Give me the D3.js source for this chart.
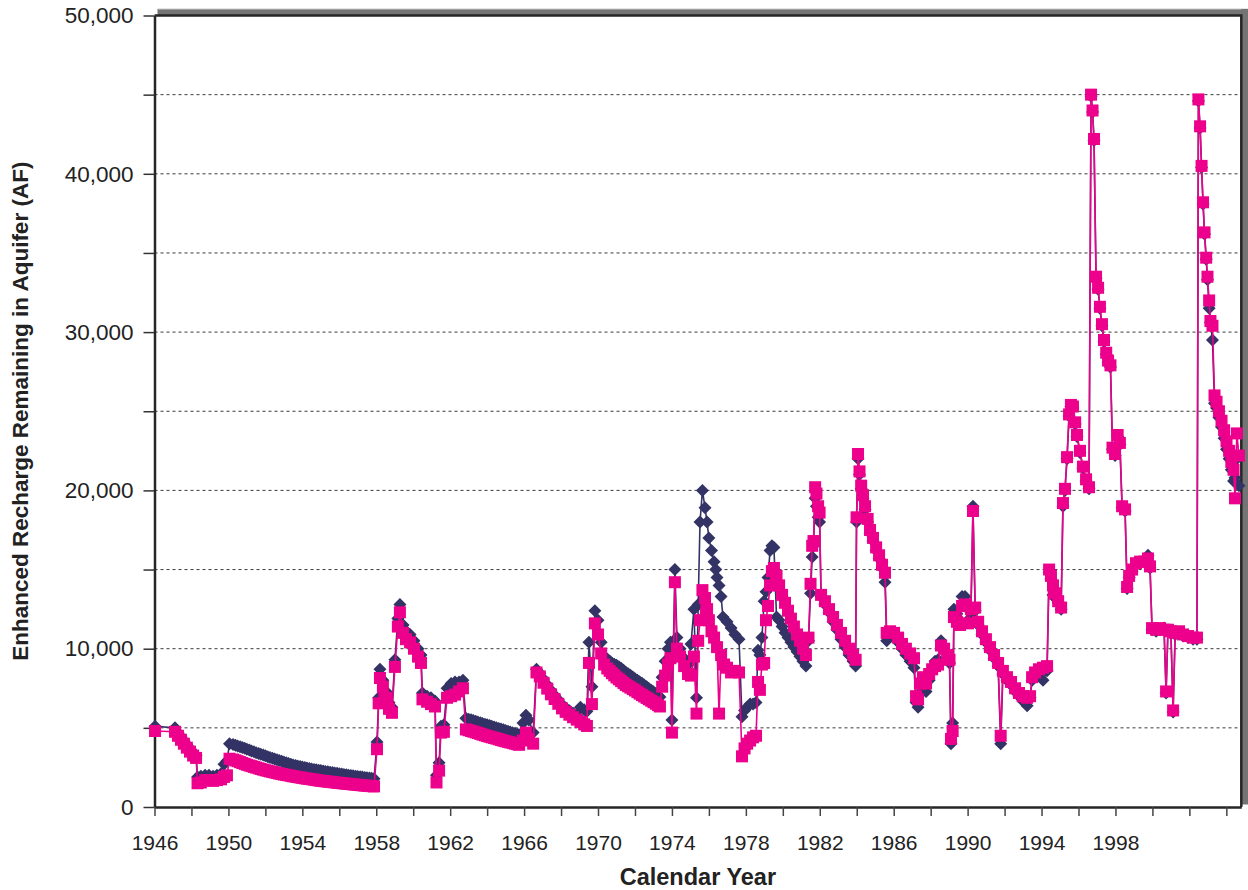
<!DOCTYPE html>
<html>
<head>
<meta charset="utf-8">
<script src="https://cdn.jsdelivr.net/npm/d3@7"></script>
<style>
  body { margin: 0; background: #fff; }
  svg { display: block; }
  text { font-family: "Liberation Sans", Arial, Helvetica, sans-serif; }
</style>
</head>
<body>
<svg id="chart" width="1248" height="890"></svg>
<script>
// Enhanced recharge remaining in the aquifer (AF), [calendar year, acre-feet]
const diamondSeries = [
  [1946.03,5100],[1947.11,5000],[1947.27,4700],[1947.43,4450],[1947.59,4200],[1947.75,3950],[1947.92,3700],[1948.09,3450],[1948.25,3250],[1948.33,1900],[1948.51,1950],[1948.74,2000],[1948.95,2000],[1949.17,1950],[1949.38,2000],[1949.60,2100],[1949.76,2700],[1949.92,2900],[1950.06,4000],
  [1950.25,3950],[1950.38,3905],[1950.50,3860],[1950.63,3810],[1950.75,3760],[1950.88,3705],[1951.00,3650],[1951.13,3595],[1951.25,3540],[1951.38,3485],[1951.50,3430],[1951.63,3380],[1951.75,3330],[1951.88,3280],
  [1952.00,3230],[1952.13,3180],[1952.25,3130],[1952.38,3080],[1952.50,3030],[1952.63,2980],[1952.75,2930],[1952.88,2885],[1953.00,2840],[1953.13,2795],[1953.25,2750],[1953.38,2705],[1953.50,2660],[1953.63,2625],[1953.75,2590],[1953.88,2555],
  [1954.00,2520],[1954.13,2490],[1954.25,2460],[1954.38,2430],[1954.50,2400],[1954.63,2375],[1954.75,2350],[1954.88,2325],[1955.00,2300],[1955.13,2275],[1955.25,2250],[1955.38,2225],[1955.50,2200],[1955.63,2175],[1955.75,2150],[1955.88,2125],
  [1956.00,2100],[1956.13,2080],[1956.25,2060],[1956.38,2035],[1956.50,2010],[1956.63,1990],[1956.75,1970],[1956.88,1950],[1957.00,1930],[1957.13,1910],[1957.25,1890],[1957.38,1870],[1957.50,1850],[1957.63,1830],[1957.75,1810],[1957.88,1790],
  [1958.04,4100],[1958.13,6900],[1958.20,8700],[1958.36,8000],[1958.53,7300],[1958.69,6600],[1958.85,6300],[1959.01,9300],[1959.17,11900],[1959.28,12800],[1959.45,11500],[1959.61,11100],[1959.83,10900],[1960.04,10500],[1960.26,10000],[1960.42,9600],[1960.50,7200],[1960.75,7000],[1960.96,6900],[1961.18,6700],[1961.26,2000],[1961.40,2800],[1961.50,5100],[1961.66,5200],[1961.83,7500],[1962.05,7800],[1962.26,7900],[1962.48,7900],[1962.69,8000],[1962.85,5600],
  [1963.00,5550],[1963.13,5505],[1963.25,5460],[1963.38,5415],[1963.50,5370],[1963.63,5325],[1963.75,5280],[1963.88,5235],[1964.00,5190],[1964.13,5145],[1964.25,5100],[1964.38,5055],[1964.50,5010],[1964.63,4965],[1964.75,4920],[1964.88,4875],[1965.00,4830],[1965.13,4785],[1965.25,4740],[1965.38,4695],[1965.50,4650],[1965.63,4605],[1965.73,4560],
  [1965.94,5300],[1966.10,5800],[1966.26,5500],[1966.49,4700],[1966.67,8700],
  [1966.85,8450],[1967.05,8080],[1967.25,7720],[1967.45,7370],[1967.65,7060],[1967.85,6770],[1968.05,6480],[1968.25,6260],[1968.45,6080],[1968.65,5920],[1968.85,5780],[1969.05,6300],[1969.25,6150],[1969.40,6050],
  [1969.51,10400],[1969.67,7600],[1969.83,12400],[1970.00,11800],[1970.17,10400],[1970.33,9500],
  [1970.50,9350],[1970.63,9225],[1970.75,9100],[1970.88,9025],[1971.00,8950],[1971.13,8855],[1971.25,8760],[1971.38,8635],[1971.50,8510],[1971.63,8415],[1971.75,8320],[1971.88,8210],[1972.00,8100],[1972.13,8010],[1972.25,7920],[1972.38,7810],[1972.50,7700],[1972.63,7590],[1972.75,7480],[1972.88,7380],[1973.00,7280],[1973.13,7165],[1973.25,7050],[1973.35,6950],
  [1973.47,8200],[1973.63,9200],[1973.79,10000],[1973.92,10400],[1974.00,5500],[1974.16,15000],[1974.27,10700],[1974.44,10000],[1974.66,9400],[1974.87,9000],[1975.03,10300],[1975.19,12500],[1975.33,6900],[1975.42,12800],[1975.52,18000],[1975.65,20000],[1975.79,18900],[1975.90,18000],[1976.00,17000],[1976.14,16200],[1976.28,15500],[1976.37,15000],[1976.44,14500],[1976.55,14000],[1976.66,13300],[1976.76,12000],[1976.98,11700],[1977.20,11300],[1977.41,10900],[1977.63,10600],[1977.79,5700],
  [1977.93,6100],[1978.07,6300],[1978.23,6500],[1978.39,6500],[1978.55,6600],[1978.66,9900],[1978.76,9600],[1978.87,10700],[1978.99,13000],[1979.09,13600],[1979.20,14500],[1979.31,16200],[1979.41,16500],[1979.52,16400],[1979.66,12000],
  [1979.80,11800],[1979.96,11400],[1980.12,11000],[1980.28,10700],[1980.44,10400],[1980.60,10100],[1980.77,9800],[1980.93,9500],[1981.09,9200],[1981.25,8900],
  [1981.39,10500],[1981.50,13500],[1981.59,15800],[1981.66,16500],[1981.75,19500],[1981.82,19000],[1981.91,18300],[1981.99,18000],[1982.07,13300],
  [1982.28,12800],[1982.50,12300],[1982.72,11700],[1982.93,11200],[1983.15,10600],[1983.37,10100],[1983.58,9600],[1983.80,9200],[1983.94,8900],
  [1983.99,18000],[1984.07,22000],[1984.15,21000],[1984.24,20100],[1984.34,19500],[1984.45,18800],[1984.59,18000],[1984.72,17300],[1984.88,16800],[1985.05,16200],[1985.21,15700],[1985.37,15100],[1985.53,14200],
  [1985.62,10500],[1985.80,10900],[1986.02,10800],[1986.24,10400],[1986.45,10000],[1986.66,9600],[1986.89,9200],[1987.10,8800],[1987.21,6600],[1987.32,6300],
  [1987.42,7200],[1987.58,7900],[1987.75,7300],[1987.92,8000],[1988.08,8600],[1988.24,9200],[1988.40,9300],[1988.56,10500],[1988.73,9900],[1988.89,9400],[1989.02,9100],[1989.10,4000],[1989.19,5300],[1989.26,12500],[1989.42,12200],[1989.59,11700],[1989.70,13300],[1989.86,13300],[1990.02,11800],[1990.18,12300],[1990.29,19000],[1990.41,12400],
  [1990.57,11500],[1990.78,10900],[1990.99,10400],[1991.21,9900],[1991.43,9400],[1991.65,8900],[1991.79,4000],[1991.91,8400],[1992.13,8000],[1992.35,7700],[1992.57,7300],[1992.78,7000],[1992.99,6700],[1993.22,6400],
  [1993.38,6900],[1993.49,8000],[1993.65,8300],[1993.86,8500],[1994.08,8000],[1994.30,8600],
  [1994.41,14800],[1994.51,14400],[1994.62,13400],[1994.73,13200],[1994.90,12900],[1995.06,12500],[1995.16,19000],[1995.27,20000],[1995.38,22000],[1995.49,24700],[1995.59,25300],[1995.70,25200],[1995.82,24200],[1995.92,23400],[1996.08,22400],[1996.24,21400],[1996.41,20600],[1996.57,20100],
  [1996.68,44900],[1996.76,43900],[1996.84,42100],[1996.95,33400],[1997.06,32700],[1997.16,31500],[1997.27,30400],[1997.38,29400],[1997.50,28600],[1997.60,28100],[1997.73,27800],[1997.84,22600],[1997.98,22200],[1998.12,23400],[1998.24,22900],[1998.36,18900],[1998.52,18700],[1998.63,13800],[1998.74,14500],[1998.90,14900],[1999.11,15300],[1999.33,15400],[1999.55,15500],[1999.76,15900],[1999.87,15100],
  [1999.98,11200],[2000.20,11100],[2000.41,11200],[2000.63,11300],[2000.74,7200],[2000.84,11100],[2001.00,11000],[2001.12,6000],[2001.23,10900],[2001.44,11000],[2001.66,10800],[2001.93,10700],[2002.20,10600],[2002.41,10600],
  [2002.49,44600],[2002.58,42900],[2002.66,40400],[2002.74,38100],[2002.82,36200],[2002.91,34600],[2002.98,33300],[2003.07,31500],[2003.14,30600],[2003.25,29500],[2003.36,25500],[2003.47,25200],[2003.60,24600],[2003.74,24000],[2003.88,23300],[2004.01,22600],[2004.15,22000],[2004.27,21300],[2004.39,20600],[2004.47,20800],[2004.57,22000],[2004.68,20300]
];

const squareSeries = [
  [1946.03,4800],[1947.11,4750],[1947.27,4500],[1947.43,4250],[1947.59,4000],[1947.75,3750],[1947.92,3500],[1948.09,3250],[1948.25,3100],[1948.33,1500],[1948.51,1550],[1948.74,1700],[1948.95,1700],[1949.17,1650],[1949.38,1700],[1949.60,1750],[1949.76,1900],[1949.92,2000],[1950.06,3050],
  [1950.25,3000],[1950.38,2945],[1950.50,2890],[1950.63,2835],[1950.75,2780],[1950.88,2725],[1951.00,2670],[1951.13,2625],[1951.25,2580],[1951.38,2535],[1951.50,2490],[1951.63,2445],[1951.75,2400],[1951.88,2360],
  [1952.00,2320],[1952.13,2285],[1952.25,2250],[1952.38,2215],[1952.50,2180],[1952.63,2145],[1952.75,2110],[1952.88,2080],[1953.00,2050],[1953.13,2025],[1953.25,2000],[1953.38,1970],[1953.50,1940],[1953.63,1915],[1953.75,1890],[1953.88,1865],
  [1954.00,1840],[1954.13,1815],[1954.25,1790],[1954.38,1770],[1954.50,1750],[1954.63,1725],[1954.75,1700],[1954.88,1680],[1955.00,1660],[1955.13,1640],[1955.25,1620],[1955.38,1605],[1955.50,1590],[1955.63,1570],[1955.75,1555],[1955.88,1535],
  [1956.00,1520],[1956.13,1505],[1956.25,1490],[1956.38,1475],[1956.50,1460],[1956.63,1445],[1956.75,1430],[1956.88,1415],[1957.00,1400],[1957.13,1385],[1957.25,1370],[1957.38,1355],[1957.50,1345],[1957.63,1330],[1957.75,1315],[1957.88,1300],
  [1958.04,3650],[1958.13,6550],[1958.20,8150],[1958.36,7600],[1958.53,6900],[1958.69,6200],[1958.85,5950],[1959.01,8850],[1959.17,11400],[1959.28,12300],[1959.45,11000],[1959.61,10600],[1959.83,10400],[1960.04,10000],[1960.26,9500],[1960.42,9100],[1960.50,6800],[1960.75,6650],[1960.96,6500],[1961.18,6350],[1961.26,1550],[1961.40,2300],[1961.50,4700],[1961.66,4750],[1961.83,6900],[1962.05,7000],[1962.26,7100],[1962.48,7300],[1962.69,7500],[1962.85,4900],
  [1963.00,4850],[1963.13,4805],[1963.25,4760],[1963.38,4715],[1963.50,4670],[1963.63,4620],[1963.75,4570],[1963.88,4525],[1964.00,4480],[1964.13,4440],[1964.25,4400],[1964.38,4360],[1964.50,4320],[1964.63,4275],[1964.75,4230],[1964.88,4190],[1965.00,4150],[1965.13,4115],[1965.25,4080],[1965.38,4040],[1965.50,4000],[1965.63,3965],[1965.73,3930],
  [1965.94,4200],[1966.10,4700],[1966.26,4300],[1966.49,4000],[1966.67,8500],
  [1966.85,8250],[1967.05,7850],[1967.25,7480],[1967.45,7120],[1967.65,6820],[1967.85,6520],[1968.05,6230],[1968.25,6010],[1968.45,5830],[1968.65,5670],[1968.85,5520],[1969.05,5370],[1969.25,5220],[1969.40,5120],
  [1969.51,9100],[1969.67,6500],[1969.83,11600],[1970.00,10900],[1970.17,9700],[1970.33,9000],
  [1970.50,8750],[1970.63,8600],[1970.75,8450],[1970.88,8315],[1971.00,8180],[1971.13,8065],[1971.25,7950],[1971.38,7830],[1971.50,7710],[1971.63,7625],[1971.75,7540],[1971.88,7450],[1972.00,7360],[1972.13,7260],[1972.25,7160],[1972.38,7070],[1972.50,6980],[1972.63,6890],[1972.75,6800],[1972.88,6710],[1973.00,6620],[1973.13,6525],[1973.25,6430],[1973.35,6350],
  [1973.47,7600],[1973.63,8300],[1973.79,9000],[1973.92,9400],[1974.00,4700],[1974.16,14200],[1974.27,10000],[1974.44,9500],[1974.66,8900],[1974.87,8400],[1975.03,8300],[1975.19,9500],[1975.33,5900],[1975.42,10500],[1975.52,11800],[1975.65,13700],[1975.79,13200],[1975.90,12500],[1976.00,11800],[1976.14,11100],[1976.28,10700],[1976.44,10100],[1976.55,5900],[1976.66,9600],[1976.82,9000],[1976.98,8800],[1977.20,8500],[1977.41,8600],[1977.63,8500],[1977.79,3200],
  [1977.93,3700],[1978.07,4000],[1978.23,4200],[1978.39,4400],[1978.55,4500],[1978.66,7900],[1978.76,7400],[1978.87,9000],[1978.99,9100],[1979.09,11800],[1979.20,12700],[1979.31,14000],[1979.41,14900],[1979.52,15100],[1979.66,14600],
  [1979.80,14000],[1979.96,13400],[1980.12,12900],[1980.28,12400],[1980.44,11900],[1980.60,11400],[1980.77,10900],[1980.93,10500],[1981.09,10000],[1981.25,9600],
  [1981.39,10700],[1981.50,14100],[1981.59,16500],[1981.66,16800],[1981.75,20200],[1981.82,19800],[1981.91,19000],[1981.99,18600],[1982.07,13400],
  [1982.28,13000],[1982.50,12500],[1982.72,12000],[1982.93,11500],[1983.15,11000],[1983.37,10500],[1983.58,10000],[1983.80,9600],[1983.94,9300],
  [1983.99,18300],[1984.07,22300],[1984.15,21200],[1984.24,20300],[1984.34,19700],[1984.45,19000],[1984.59,18200],[1984.72,17500],[1984.88,17000],[1985.05,16400],[1985.21,15900],[1985.37,15300],[1985.53,14800],
  [1985.62,11000],[1985.80,11100],[1986.02,11000],[1986.24,10700],[1986.45,10300],[1986.66,10000],[1986.89,9700],[1987.10,9400],[1987.21,7000],[1987.32,6800],
  [1987.42,7800],[1987.58,8200],[1987.75,7800],[1987.92,8400],[1988.08,8700],[1988.24,8900],[1988.40,9000],[1988.56,10200],[1988.73,10000],[1988.89,9600],[1989.02,9300],[1989.10,4300],[1989.19,4800],[1989.26,12000],[1989.42,11700],[1989.59,11500],[1989.70,12700],[1989.86,12800],[1990.02,11600],[1990.18,12500],[1990.29,18700],[1990.41,12600],
  [1990.57,11700],[1990.78,11100],[1990.99,10600],[1991.21,10100],[1991.43,9600],[1991.65,9100],[1991.79,4500],[1991.91,8600],[1992.13,8200],[1992.35,7900],[1992.57,7500],[1992.78,7200],[1992.99,7000],[1993.22,6900],
  [1993.38,7000],[1993.49,8200],[1993.65,8500],[1993.86,8700],[1994.08,8800],[1994.30,8900],
  [1994.41,15000],[1994.51,14600],[1994.62,14000],[1994.73,13500],[1994.90,13000],[1995.06,12600],[1995.16,19200],[1995.27,20100],[1995.38,22100],[1995.49,24800],[1995.59,25400],[1995.70,25300],[1995.82,24300],[1995.92,23500],[1996.08,22500],[1996.24,21500],[1996.41,20700],[1996.57,20200],
  [1996.68,45000],[1996.76,44000],[1996.84,42200],[1996.95,33500],[1997.06,32800],[1997.16,31600],[1997.27,30500],[1997.38,29500],[1997.50,28700],[1997.60,28200],[1997.73,27900],[1997.84,22700],[1997.98,22300],[1998.12,23500],[1998.24,23000],[1998.36,19000],[1998.52,18800],[1998.63,13900],[1998.74,14600],[1998.90,15000],[1999.11,15400],[1999.33,15500],[1999.55,15500],[1999.76,15700],[1999.87,15200],
  [1999.98,11300],[2000.20,11200],[2000.41,11300],[2000.63,11200],[2000.74,7300],[2000.84,11200],[2001.00,11100],[2001.12,6100],[2001.23,11000],[2001.44,11100],[2001.66,10900],[2001.93,10800],[2002.20,10700],[2002.41,10700],
  [2002.49,44700],[2002.58,43000],[2002.66,40500],[2002.74,38200],[2002.82,36300],[2002.91,34700],[2002.98,33500],[2003.07,32000],[2003.14,30700],[2003.25,30400],[2003.36,26000],[2003.47,25600],[2003.60,25000],[2003.74,24400],[2003.88,23800],[2004.01,23100],[2004.15,22500],[2004.27,21800],[2004.39,21300],[2004.47,19500],[2004.57,23600],[2004.68,22200]
];

const yTickValues = [0, 5000, 10000, 15000, 20000, 25000, 30000, 35000, 40000, 45000, 50000];
const yLabelValues = [0, 10000, 20000, 30000, 40000, 50000];
const gridValues = [5000, 10000, 15000, 20000, 25000, 30000, 35000, 40000, 45000];
const xTickYears = [1946,1948,1950,1952,1954,1956,1958,1960,1962,1964,1966,1968,1970,1972,1974,1976,1978,1980,1982,1984,1986,1988,1990,1992,1994,1996,1998,2000,2002,2004];
const xLabelYears = [1946,1950,1954,1958,1962,1966,1970,1974,1978,1982,1986,1990,1994,1998];

const navy = "#333366";
const pink = "#ec008c";

const svg = d3.select("#chart");

const x = d3.scaleLinear().domain([1946, 2004.81]).range([154.5, 1241.3]);
const y = d3.scaleLinear().domain([0, 50000]).range([807, 15.5]);

const [x0, x1] = x.range();
const [yBottom, yTop] = y.range();

// drop shadow of the plot frame (top and right)
svg.append("rect")
  .attr("x", x0 + 3).attr("y", yTop - 6.5)
  .attr("width", 1248 - x0 - 3).attr("height", 6.5)
  .attr("fill", "#747474");
svg.append("line")
  .attr("x1", x0 + 3).attr("x2", 1248)
  .attr("y1", yTop - 6.5).attr("y2", yTop - 6.5)
  .attr("stroke", "#c8c8c8").attr("stroke-width", 1);
svg.append("rect")
  .attr("x", x1).attr("y", yTop - 6.5)
  .attr("width", 1248 - x1).attr("height", yBottom - yTop + 4)
  .attr("fill", "#747474");

// dashed horizontal gridlines
svg.append("g")
  .selectAll("line")
  .data(gridValues)
  .join("line")
  .attr("x1", x0).attr("x2", x1)
  .attr("y1", d => y(d)).attr("y2", d => y(d))
  .attr("stroke", "#3a3a3a")
  .attr("stroke-width", 1)
  .attr("stroke-dasharray", "3,3");

// top and right edges of the plot frame
svg.append("path")
  .attr("d", `M${x0},${yTop}H${x1}V${yBottom}`)
  .attr("fill", "none")
  .attr("stroke", "#262626")
  .attr("stroke-width", 2.5);

// y axis
const yAxis = d3.axisLeft(y)
  .tickValues(yTickValues)
  .tickSize(11)
  .tickSizeOuter(0)
  .tickPadding(10)
  .tickFormat(d => yLabelValues.includes(d) ? d3.format(",")(d) : "");
const gy = svg.append("g")
  .attr("transform", `translate(${x0},0)`)
  .call(yAxis);
gy.select(".domain").attr("stroke", "#262626").attr("stroke-width", 2.5);
gy.selectAll(".tick line").attr("stroke", "#333").attr("stroke-width", 1.5);
gy.selectAll(".tick text")
  .attr("fill", "#222")
  .style("font-size", "22.5px");

// x axis
const xAxis = d3.axisBottom(x)
  .tickValues(xTickYears)
  .tickSize(9)
  .tickSizeOuter(0)
  .tickPadding(19)
  .tickFormat(d => xLabelYears.includes(d) ? String(d) : "");
const gx = svg.append("g")
  .attr("transform", `translate(0,${yBottom})`)
  .call(xAxis);
gx.select(".domain").attr("stroke", "#262626").attr("stroke-width", 2.5);
gx.selectAll(".tick line").attr("stroke", "#444").attr("stroke-width", 1.5);
gx.selectAll(".tick text")
  .attr("fill", "#222")
  .style("font-size", "21px");

// axis titles
svg.append("text")
  .attr("x", (x0 + x1) / 2)
  .attr("y", 885)
  .attr("text-anchor", "middle")
  .attr("fill", "#222")
  .style("font-size", "23.5px")
  .style("font-weight", "bold")
  .text("Calendar Year");

svg.append("text")
  .attr("transform", `translate(28,${(yTop + yBottom) / 2}) rotate(-90)`)
  .attr("text-anchor", "middle")
  .attr("fill", "#222")
  .style("font-size", "22.5px")
  .style("font-weight", "bold")
  .text("Enhanced Recharge Remaining in Aquifer (AF)");

// series
const line = d3.line().x(d => x(d[0])).y(d => y(d[1]));

const diamondR = 6.5;
const squareHalf = 6;

const gNavy = svg.append("g");
gNavy.append("path")
  .datum(diamondSeries)
  .attr("d", line)
  .attr("fill", "none")
  .attr("stroke", navy)
  .attr("stroke-width", 1.6);
gNavy.selectAll("path.marker")
  .data(diamondSeries)
  .join("path")
  .attr("class", "marker")
  .attr("d", `M0,${-diamondR}L${diamondR},0L0,${diamondR}L${-diamondR},0Z`)
  .attr("transform", d => `translate(${x(d[0])},${y(d[1])})`)
  .attr("fill", navy);

const gPink = svg.append("g");
gPink.append("path")
  .datum(squareSeries)
  .attr("d", line)
  .attr("fill", "none")
  .attr("stroke", pink)
  .attr("stroke-width", 1.6);
gPink.selectAll("rect")
  .data(squareSeries)
  .join("rect")
  .attr("x", d => x(d[0]) - squareHalf)
  .attr("y", d => y(d[1]) - squareHalf)
  .attr("width", squareHalf * 2)
  .attr("height", squareHalf * 2)
  .attr("fill", pink);
</script>
</body>
</html>
